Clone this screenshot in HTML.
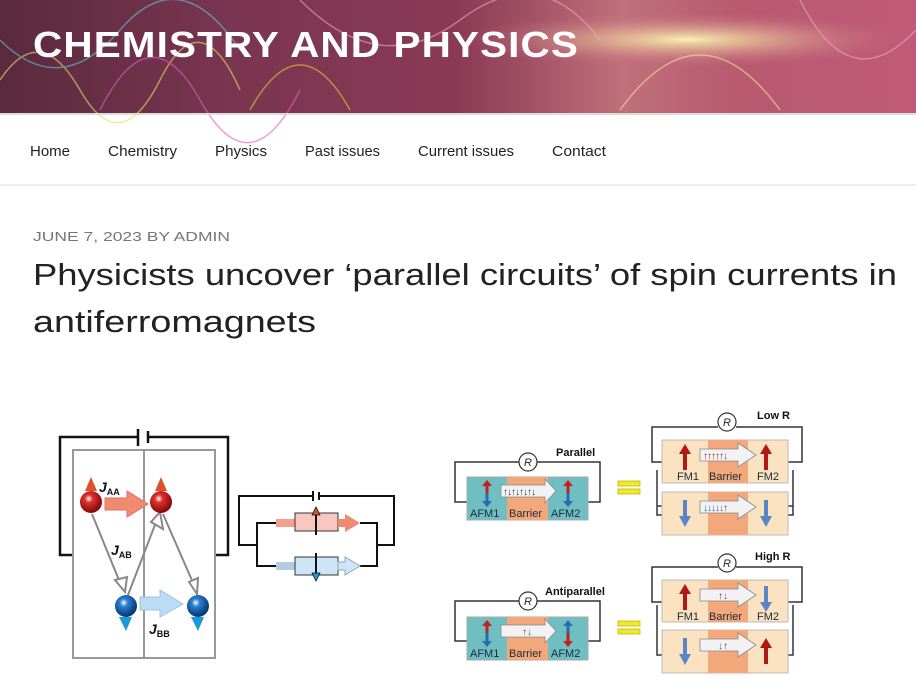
<!DOCTYPE html>
<html><head><meta charset="utf-8"><style>
html,body{margin:0;padding:0;background:#fff;width:916px;height:689px;overflow:hidden}
svg{display:block}
text{font-family:"Liberation Sans",Arial,sans-serif}
</style></head><body>
<svg width="916" height="689" viewBox="0 0 916 689" xmlns="http://www.w3.org/2000/svg">
<defs>
<linearGradient id="hdr" x1="0" y1="0" x2="1" y2="0">
<stop offset="0" stop-color="#5a2a3e"/><stop offset="0.25" stop-color="#7a3550"/>
<stop offset="0.5" stop-color="#8a3a55"/><stop offset="0.68" stop-color="#c0707a"/>
<stop offset="0.8" stop-color="#b85a70"/><stop offset="1" stop-color="#c05a78"/>
</linearGradient>
<radialGradient id="glow" cx="0.75" cy="0.35" r="0.25">
<stop offset="0" stop-color="#f8f0b0"/><stop offset="0.4" stop-color="#e0b090" stop-opacity="0.7"/><stop offset="1" stop-color="#c06080" stop-opacity="0"/>
</radialGradient>
<radialGradient id="red" cx="0.4" cy="0.35" r="0.6"><stop offset="0" stop-color="#fff"/><stop offset="0.3" stop-color="#e03030"/><stop offset="1" stop-color="#8a0a0a"/></radialGradient>
<radialGradient id="blue" cx="0.4" cy="0.35" r="0.6"><stop offset="0" stop-color="#fff"/><stop offset="0.3" stop-color="#2a80d0"/><stop offset="1" stop-color="#0a3a7a"/></radialGradient>
</defs>
<rect x="0" y="0" width="916" height="113" fill="url(#hdr)"/>
<rect x="0" y="0" width="916" height="113" fill="url(#glow)"/>
<g fill="none" stroke-width="1.5" opacity="0.6">
<path d="M0 80 Q40 20 80 90 T160 80 T240 90" stroke="#e8e060"/>
<path d="M0 40 Q60 100 120 30 T240 50" stroke="#60c8d0"/>
<path d="M100 110 Q150 10 200 100 T300 90" stroke="#e060c0"/>
<path d="M250 110 Q300 20 350 110" stroke="#d8d040"/>
<path d="M300 0 Q380 80 460 20 T600 40" stroke="#f0a0c0"/>
<path d="M620 110 Q700 0 780 110" stroke="#f0e0a0"/>
<path d="M800 0 Q850 100 916 30" stroke="#f0a0c0"/>
</g>
<text x="33" y="57" font-size="36" font-weight="bold" fill="#fff" textLength="546" lengthAdjust="spacingAndGlyphs" letter-spacing="1">CHEMISTRY AND PHYSICS</text>
<rect x="0" y="113" width="916" height="2" fill="#ddd"/>
<g font-size="15" fill="#222">
<text x="30" y="156" textLength="40" lengthAdjust="spacingAndGlyphs">Home</text>
<text x="108" y="156" textLength="69" lengthAdjust="spacingAndGlyphs">Chemistry</text>
<text x="215" y="156" textLength="52" lengthAdjust="spacingAndGlyphs">Physics</text>
<text x="305" y="156" textLength="75" lengthAdjust="spacingAndGlyphs">Past issues</text>
<text x="418" y="156" textLength="96" lengthAdjust="spacingAndGlyphs">Current issues</text>
<text x="552" y="156" textLength="54" lengthAdjust="spacingAndGlyphs">Contact</text>
</g>
<rect x="0" y="184" width="916" height="2" fill="#eee"/>
<text x="33" y="241" font-size="13" fill="#767676" textLength="197" lengthAdjust="spacingAndGlyphs">JUNE 7, 2023 BY ADMIN</text>
<text x="33" y="285" font-size="31" fill="#222" textLength="864" lengthAdjust="spacingAndGlyphs">Physicists uncover ‘parallel circuits’ of spin currents in</text>
<text x="33" y="332" font-size="31" fill="#222" textLength="283" lengthAdjust="spacingAndGlyphs">antiferromagnets</text>

<!-- left diagram -->
<g fill="none" stroke="#111" stroke-width="2.5">
<path d="M73 555 H60 V437 H138 M148 437 H228 V555 H215"/>
<path d="M138 429 V446 M148 431 V443"/>
</g>
<rect x="73" y="450" width="142" height="208" fill="none" stroke="#999" stroke-width="2"/>
<line x1="144" y1="450" x2="144" y2="658" stroke="#999" stroke-width="2"/>
<g stroke="#888" stroke-width="2" fill="#fff">
<line x1="92" y1="514" x2="121" y2="585"/><line x1="128" y1="595" x2="158" y2="517"/><line x1="163" y1="514" x2="194" y2="585"/>
<path d="M115 580 L125 592 L127 577Z"/><path d="M151 522 L160 512 L163 529Z"/><path d="M189 582 L197 594 L198 578Z"/>
</g>
<path d="M105 498 H127 V491 L148 504 L127 517 V510 H105Z" fill="#f08a70" stroke="#e07060"/>
<path d="M140 597 H160 V590 L183 604 L160 617 V610 H140Z" fill="#bcdcf4" stroke="#9cc4e4"/>
<g fill="#e0502a"><path d="M85 491 L91 477 L97 491Z"/><path d="M155 491 L161 477 L167 491Z"/></g>
<circle cx="91" cy="502" r="11" fill="url(#red)"/><circle cx="161" cy="502" r="11" fill="url(#red)"/>
<g fill="#1a9ad8"><path d="M119 617 L132 617 L126 631Z"/><path d="M191 617 L204 617 L198 631Z"/></g>
<circle cx="126" cy="606" r="11" fill="url(#blue)"/><circle cx="198" cy="606" r="11" fill="url(#blue)"/>
<g font-weight="bold" font-style="italic" fill="#111">
<text x="99" y="492" font-size="14">J<tspan font-size="9" dy="3" font-style="normal">AA</tspan></text>
<text x="111" y="555" font-size="14">J<tspan font-size="9" dy="3" font-style="normal">AB</tspan></text>
<text x="149" y="634" font-size="14">J<tspan font-size="9" dy="3" font-style="normal">BB</tspan></text>
</g>
<!-- small circuit -->
<g fill="none" stroke="#111" stroke-width="2">
<path d="M257 545 H239 V496 H313 M319 496 H394 V545 H377"/>
<path d="M313 491 V501 M319 492 V500"/>
<path d="M276 523 H257 V566 H276 M360 523 H377 V566 H360"/>
</g>
<path d="M276 519 H296 V527 H276Z" fill="#f4a090"/>
<rect x="295" y="513" width="43" height="18" fill="#f8c8c0" stroke="#333"/>
<path d="M338 519 H345 V514 L360 523 L345 532 V527 H338Z" fill="#f08a70"/>
<path d="M276 562 H296 V570 H276Z" fill="#b4cce0"/>
<rect x="295" y="557" width="43" height="18" fill="#cce6f8" stroke="#333"/>
<path d="M338 562 H345 V557 L360 566 L345 575 V570 H338Z" fill="#cce6f8" stroke="#8ab"/>
<line x1="316" y1="509" x2="316" y2="535" stroke="#111" stroke-width="2"/><path d="M312 515 L316 507 L320 515Z" fill="#e0502a" stroke="#111" stroke-width="0.8"/>
<line x1="316" y1="553" x2="316" y2="579" stroke="#111" stroke-width="2"/><path d="M312 573 L316 581 L320 573Z" fill="#1a9ad8" stroke="#111" stroke-width="0.8"/>

<!-- right -->
<g fill="none" stroke="#333" stroke-width="1.5">
<path d="M467 502 H455 V462 H519 M537 462 H600 V502 H588"/>
<path d="M467 641 H455 V601 H519 M537 601 H600 V641 H588"/>
<path d="M662 462 H652 V427 H718 M736 427 H802 V462 H788"/>
<path d="M662 506 H657 V470 M662 515 H657 V506 M788 506 H793 V470 M788 515 H793 V506"/>
<path d="M662 602 H652 V567 H718 M736 567 H802 V602 H788"/>
<path d="M662 655 H657 V605 M788 655 H793 V605"/>
</g>
<g stroke="#333" stroke-width="1.2">
<circle cx="528" cy="462" r="9" fill="#fff"/><circle cx="528" cy="601" r="9" fill="#fff"/>
<circle cx="727" cy="422" r="9" fill="#fff"/><circle cx="727" cy="563" r="9" fill="#fff"/>
</g>
<g font-size="11" font-style="italic" text-anchor="middle" fill="#222">
<text x="528" y="466">R</text><text x="528" y="605">R</text><text x="727" y="426">R</text><text x="727" y="567">R</text>
</g>
<g font-size="11" font-weight="bold" fill="#111">
<text x="556" y="456">Parallel</text><text x="545" y="595">Antiparallel</text>
<text x="757" y="419">Low R</text><text x="755" y="560">High R</text>
</g>
<rect x="467" y="477" width="121" height="43" fill="#6fbfc2" stroke="#aaa"/>
<rect x="507" y="477" width="41" height="43" fill="#f2a87a"/>
<rect x="467" y="617" width="121" height="43" fill="#6fbfc2" stroke="#aaa"/>
<rect x="507" y="617" width="41" height="43" fill="#f2a87a"/>
<g stroke="#bbb">
<rect x="662" y="440" width="126" height="43" fill="#fbe2c0"/><rect x="662" y="492" width="126" height="43" fill="#fbe2c0"/>
<rect x="662" y="580" width="126" height="42" fill="#fbe2c0"/><rect x="662" y="630" width="126" height="43" fill="#fbe2c0"/>
</g>
<g fill="#f2a87a"><rect x="708" y="440" width="40" height="43"/><rect x="708" y="492" width="40" height="43"/><rect x="708" y="580" width="40" height="42"/><rect x="708" y="630" width="40" height="43"/></g>
<g fill="#f2f2f4" stroke="#888" stroke-width="0.8">
<path d="M501 485 H545 V479 L556 491 L545 503 V497 H501Z"/>
<path d="M501 625 H545 V619 L556 631 L545 643 V637 H501Z"/>
<path d="M700 449 H738 V443 L756 455 L738 467 V461 H700Z"/>
<path d="M700 501 H738 V495 L756 507 L738 519 V513 H700Z"/>
<path d="M700 589 H738 V583 L756 595 L738 607 V601 H700Z"/>
<path d="M700 639 H738 V633 L756 645 L738 657 V651 H700Z"/>
</g>
<text x="503" y="495" font-size="10" fill="#345" letter-spacing="-1">↑↓↑↓↑↓↑↓</text>
<text x="522" y="635" font-size="10" fill="#a22">↑<tspan fill="#36a">↓</tspan></text>
<text x="703" y="459" font-size="10" fill="#a22" letter-spacing="-1">↑↑↑↑↑<tspan fill="#36a">↓</tspan></text>
<text x="703" y="511" font-size="10" fill="#36a" letter-spacing="-1">↓↓↓↓↓<tspan fill="#a22">↑</tspan></text>
<text x="718" y="599" font-size="10" fill="#a22">↑<tspan fill="#36a">↓</tspan></text>
<text x="718" y="649" font-size="10" fill="#36a">↓<tspan fill="#a22">↑</tspan></text>
<g stroke-width="3">
<line x1="487" y1="484" x2="487" y2="493" stroke="#c02020"/><line x1="487" y1="493" x2="487" y2="502" stroke="#2a6ab0"/>
<line x1="568" y1="484" x2="568" y2="493" stroke="#c02020"/><line x1="568" y1="493" x2="568" y2="502" stroke="#2a6ab0"/>
<line x1="487" y1="624" x2="487" y2="633" stroke="#c02020"/><line x1="487" y1="633" x2="487" y2="642" stroke="#2a6ab0"/>
<line x1="568" y1="624" x2="568" y2="633" stroke="#2a6ab0"/><line x1="568" y1="633" x2="568" y2="642" stroke="#c02020"/>
</g>
<path d="M482 486 L487 480 L492 486Z" fill="#c02020"/><path d="M482 501 L487 507 L492 501Z" fill="#2a6ab0"/>
<path d="M563 486 L568 480 L573 486Z" fill="#c02020"/><path d="M563 501 L568 507 L573 501Z" fill="#2a6ab0"/>
<path d="M482 626 L487 620 L492 626Z" fill="#c02020"/><path d="M482 641 L487 647 L492 641Z" fill="#2a6ab0"/>
<path d="M563 626 L568 620 L573 626Z" fill="#2a6ab0"/><path d="M563 641 L568 647 L573 641Z" fill="#c02020"/>
<g stroke-width="4">
<line x1="685" y1="452" x2="685" y2="470" stroke="#b01818"/><line x1="766" y1="452" x2="766" y2="470" stroke="#b01818"/>
<line x1="685" y1="500" x2="685" y2="518" stroke="#5a86c8"/><line x1="766" y1="500" x2="766" y2="518" stroke="#5a86c8"/>
<line x1="685" y1="592" x2="685" y2="610" stroke="#b01818"/><line x1="766" y1="586" x2="766" y2="604" stroke="#5a86c8"/>
<line x1="685" y1="638" x2="685" y2="656" stroke="#5a86c8"/><line x1="766" y1="646" x2="766" y2="664" stroke="#b01818"/>
</g>
<path d="M679 454 L685 444 L691 454Z" fill="#b01818"/><path d="M760 454 L766 444 L772 454Z" fill="#b01818"/>
<path d="M679 516 L685 527 L691 516Z" fill="#5a86c8"/><path d="M760 516 L766 527 L772 516Z" fill="#5a86c8"/>
<path d="M679 594 L685 584 L691 594Z" fill="#b01818"/><path d="M760 602 L766 612 L772 602Z" fill="#5a86c8"/>
<path d="M679 654 L685 665 L691 654Z" fill="#5a86c8"/><path d="M760 648 L766 638 L772 648Z" fill="#b01818"/>
<g font-size="11" fill="#1a2a3a">
<text x="470" y="517">AFM1</text><text x="509" y="517">Barrier</text><text x="551" y="517">AFM2</text>
<text x="470" y="657">AFM1</text><text x="509" y="657">Barrier</text><text x="551" y="657">AFM2</text>
<text x="677" y="480">FM1</text><text x="709" y="480">Barrier</text><text x="757" y="480">FM2</text>
<text x="677" y="620">FM1</text><text x="709" y="620">Barrier</text><text x="757" y="620">FM2</text>
</g>
<g fill="#f0e830" stroke="#c8b800" stroke-width="0.8">
<rect x="618" y="481" width="22" height="5"/><rect x="618" y="489" width="22" height="5"/>
<rect x="618" y="621" width="22" height="5"/><rect x="618" y="629" width="22" height="5"/>
</g>
</svg>
</body></html>
